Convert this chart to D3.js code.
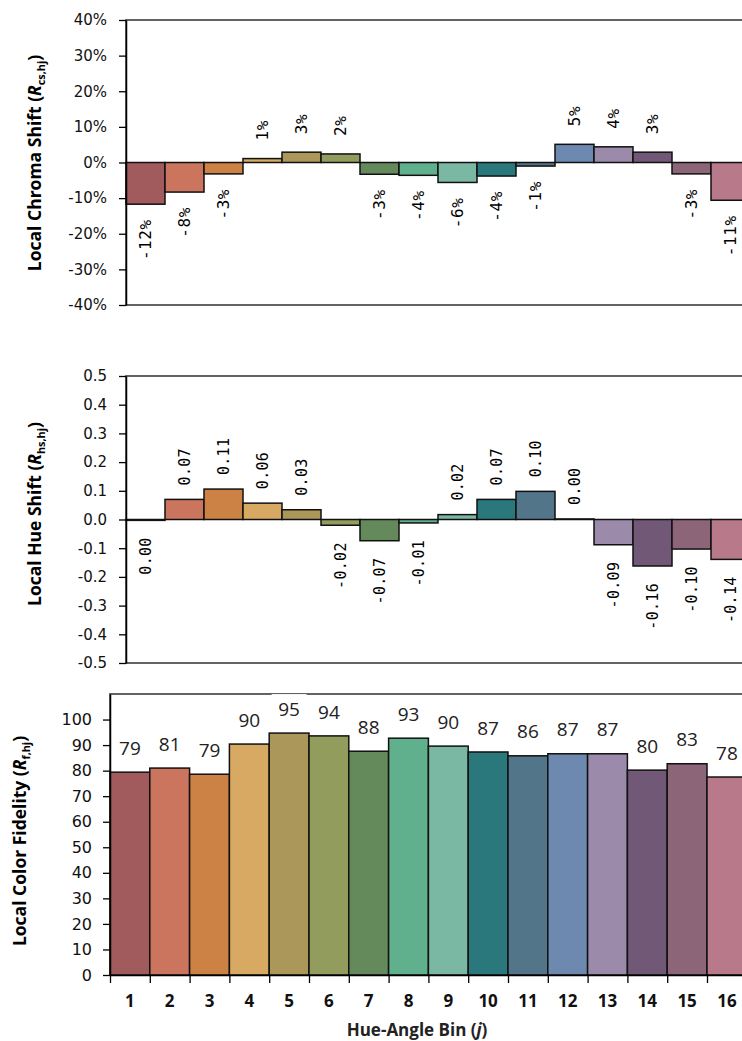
<!DOCTYPE html>
<html>
<head>
<meta charset="utf-8">
<script src="https://cdn.jsdelivr.net/npm/d3@7"></script>
<style>
  body { margin: 0; background: #fff; }
  svg { display: block; }
</style>
</head>
<body>
<div id="chart"></div>
<script>
// hue-angle bins and their colours
const bins = ['1', '2', '3', '4', '5', '6', '7', '8', '9', '10', '11', '12', '13', '14', '15', '16'];
const binColors = ['#a15b5d', '#cc755e', '#cc8245', '#d7a962', '#ab9759', '#929d5d', '#648a5c', '#61b08d',
                   '#7ab8a4', '#2a787b', '#53758a', '#6e89b0', '#9b8aa9', '#725877', '#8d6579', '#b87a8a'];

// series values
const chromaShift = [-0.117, -0.083, -0.032, 0.011, 0.029, 0.024, -0.033, -0.036,
                     -0.056, -0.038, -0.010, 0.051, 0.044, 0.029, -0.032, -0.106];
const hueShift = [-0.003, 0.070, 0.106, 0.057, 0.034, -0.020, -0.074, -0.012,
                  0.017, 0.070, 0.098, 0.002, -0.088, -0.162, -0.103, -0.139];
const colorFidelity = [79.4, 81.0, 78.6, 90.4, 94.7, 93.6, 87.6, 92.7,
                       89.6, 87.3, 85.8, 86.6, 86.6, 80.2, 82.7, 77.5];

// tick values
const chromaTicks = [-0.4, -0.3, -0.2, -0.1, 0, 0.1, 0.2, 0.3, 0.4];
const hueTicks = [-0.5, -0.4, -0.3, -0.2, -0.1, 0, 0.1, 0.2, 0.3, 0.4, 0.5];
const fidelityTicks = [0, 10, 20, 30, 40, 50, 60, 70, 80, 90, 100];

const W = 742, H = 1041;
const svg = d3.select('#chart').append('svg')
  .attr('width', W)
  .attr('height', H);

const fmt = d3.formatLocale({decimal: '.', thousands: ',', grouping: [3], currency: ['', ''], minus: '-'}).format;

const TICK_FONT = '"DejaVu Sans", sans-serif';
const LABEL_FONT = '"DejaVu Sans Mono", monospace';
const TITLE_FONT = '"Open Sans", sans-serif';

function styleAxis(ax, fontSize) {
  ax.select('.domain').attr('stroke', '#000').attr('stroke-width', 1.5);
  ax.selectAll('.tick line').attr('stroke', '#000').attr('stroke-width', 1.3);
  ax.selectAll('.tick text')
    .attr('fill', '#111')
    .style('font-family', TICK_FONT)
    .style('font-size', fontSize + 'px');
}

function yTitle(cx, cy, main, sub, size) {
  let t = svg.append('text')
    .attr('transform', `translate(${cx},${cy}) rotate(-90)`)
    .attr('text-anchor', 'middle')
    .attr('dy', '0.35em')
    .style('font-family', TITLE_FONT)
    .style('font-weight', 700)
    .style('font-size', size + 'px');
  t.append('tspan').text(main + ' (');
  t.append('tspan').style('font-style', 'italic').text('R');
  t.append('tspan').attr('dy', 4).style('font-size', (size * 0.62) + 'px').text(sub);
  t.append('tspan').attr('dy', -4).text(')');
}

// top two panels: signed bars with rotated labels
function drawShiftPanel(cfg) {
  let x = d3.scaleBand().domain(bins).range([cfg.left, cfg.left + bins.length * cfg.step]);
  let y = d3.scaleLinear().domain(cfg.domain).range([cfg.bottom, cfg.top]);
  let g = svg.append('g');

  g.append('rect')
    .attr('x', cfg.left)
    .attr('y', cfg.top)
    .attr('width', x.range()[1] - cfg.left)
    .attr('height', cfg.bottom - cfg.top)
    .attr('fill', 'none')
    .attr('stroke', '#3c3c3c')
    .attr('stroke-width', 1.6);

  g.selectAll('.bar')
    .data(cfg.values)
    .join('rect')
    .attr('class', 'bar')
    .attr('x', (d, i) => x(bins[i]))
    .attr('width', x.bandwidth())
    .attr('y', (d) => y(Math.max(0, d)))
    .attr('height', (d) => Math.max(0.5, Math.abs(y(d) - y(0))))
    .attr('fill', (d, i) => binColors[i])
    .attr('stroke', '#111')
    .attr('stroke-width', 1.5);

  g.selectAll('.lbl')
    .data(cfg.values)
    .join('text')
    .attr('class', 'lbl')
    .attr('transform', (d, i) => {
      let cx = x(bins[i]) + x.bandwidth() / 2;
      let yy = d >= 0 ? y(d) - cfg.gapUp : y(d) + cfg.gapDown;
      return `translate(${cx},${yy}) rotate(-90)`;
    })
    .attr('text-anchor', (d) => (d >= 0 ? 'start' : 'end'))
    .attr('dy', '0.35em')
    .style('font-family', LABEL_FONT)
    .style('font-size', cfg.labelSize + 'px')
    .style('letter-spacing', cfg.spacing + 'px')
    .text((d) => cfg.labelFormat(d));

  let ax = g.append('g')
    .attr('transform', `translate(${cfg.left},0)`)
    .call(d3.axisLeft(y).tickValues(cfg.ticks).tickSize(7).tickSizeOuter(0).tickPadding(12).tickFormat(cfg.tickFormat));
  styleAxis(ax, 15);
}

drawShiftPanel({
  left: 126, step: 39, top: 20, bottom: 305,
  domain: [-0.4, 0.4], ticks: chromaTicks, values: chromaShift,
  tickFormat: fmt('.0%'), labelFormat: fmt('.0%'),
  gapUp: 18, gapDown: 15, labelSize: 16, spacing: 0.6
});

drawShiftPanel({
  left: 126, step: 39, top: 376, bottom: 663,
  domain: [-0.5, 0.5], ticks: hueTicks, values: hueShift,
  tickFormat: fmt('.1f'), labelFormat: fmt('.2f'),
  gapUp: 14, gapDown: 17, labelSize: 15, spacing: 0.3
});

// bottom panel: fidelity bars
(function () {
  let left = 110, step = 39.8, top = 694, bottom = 975;
  let right = left + bins.length * step;
  let x = d3.scaleBand().domain(bins).range([left, right]);
  let xl = d3.scaleLinear().domain([0, bins.length]).range([left, right]);
  let y = d3.scaleLinear().domain([0, 110]).range([bottom, top]);
  let g = svg.append('g');

  g.append('rect')
    .attr('x', left)
    .attr('y', top)
    .attr('width', right - left)
    .attr('height', bottom - top)
    .attr('fill', 'none')
    .attr('stroke', '#3c3c3c')
    .attr('stroke-width', 1.6);

  g.selectAll('.bar')
    .data(colorFidelity)
    .join('rect')
    .attr('class', 'bar')
    .attr('x', (d, i) => x(bins[i]))
    .attr('width', x.bandwidth())
    .attr('y', (d) => y(d))
    .attr('height', (d) => y(0) - y(d))
    .attr('fill', (d, i) => binColors[i])
    .attr('stroke', '#111')
    .attr('stroke-width', 1.5);

  // labels sit in white boxes that cover the frame line
  let lbl = g.selectAll('.lbl')
    .data(colorFidelity)
    .join('g')
    .attr('class', 'lbl')
    .attr('transform', (d, i) => `translate(${x(bins[i]) + x.bandwidth() / 2},${y(d) - 24})`);
  lbl.append('rect')
    .attr('x', -17.5)
    .attr('y', -15)
    .attr('width', 35)
    .attr('height', 30)
    .attr('fill', '#fff');
  lbl.append('text')
    .attr('text-anchor', 'middle')
    .attr('dy', '0.35em')
    .style('font-family', TITLE_FONT)
    .style('font-size', '19px')
    .attr('fill', '#222')
    .text((d) => fmt('.0f')(d));

  let ay = g.append('g')
    .attr('transform', `translate(${left},0)`)
    .call(d3.axisLeft(y).tickValues(fidelityTicks).tickSize(7).tickSizeOuter(0).tickPadding(11));
  styleAxis(ay, 16);

  let ax = g.append('g')
    .attr('transform', `translate(0,${bottom})`)
    .call(d3.axisBottom(xl).tickValues(d3.range(0, bins.length + 1)).tickSize(8).tickSizeOuter(0).tickFormat(''));
  styleAxis(ax, 16);

  let axl = g.append('g')
    .attr('transform', `translate(0,${bottom})`)
    .call(d3.axisBottom(x).tickSize(0).tickPadding(20));
  axl.select('.domain').remove();
  axl.selectAll('.tick text')
    .attr('fill', '#111')
    .style('font-family', TITLE_FONT)
    .style('font-weight', 700)
    .style('font-size', '17px');

  let xt = svg.append('text')
    .attr('x', 417)
    .attr('y', 1030)
    .attr('text-anchor', 'middle')
    .attr('dy', '0.35em')
    .style('font-family', TITLE_FONT)
    .style('font-weight', 700)
    .style('font-size', '17px')
    .attr('fill', '#222');
  xt.append('tspan').text('Hue-Angle Bin (');
  xt.append('tspan').style('font-style', 'italic').text('j');
  xt.append('tspan').text(')');
})();

yTitle(35, 163, 'Local Chroma Shift', 'cs,hj', 17.5);
yTitle(35, 514, 'Local Hue Shift', 'hs,hj', 17.5);
yTitle(20, 841, 'Local Color Fidelity', 'f,hj', 17.5);
</script>
</body>
</html>
